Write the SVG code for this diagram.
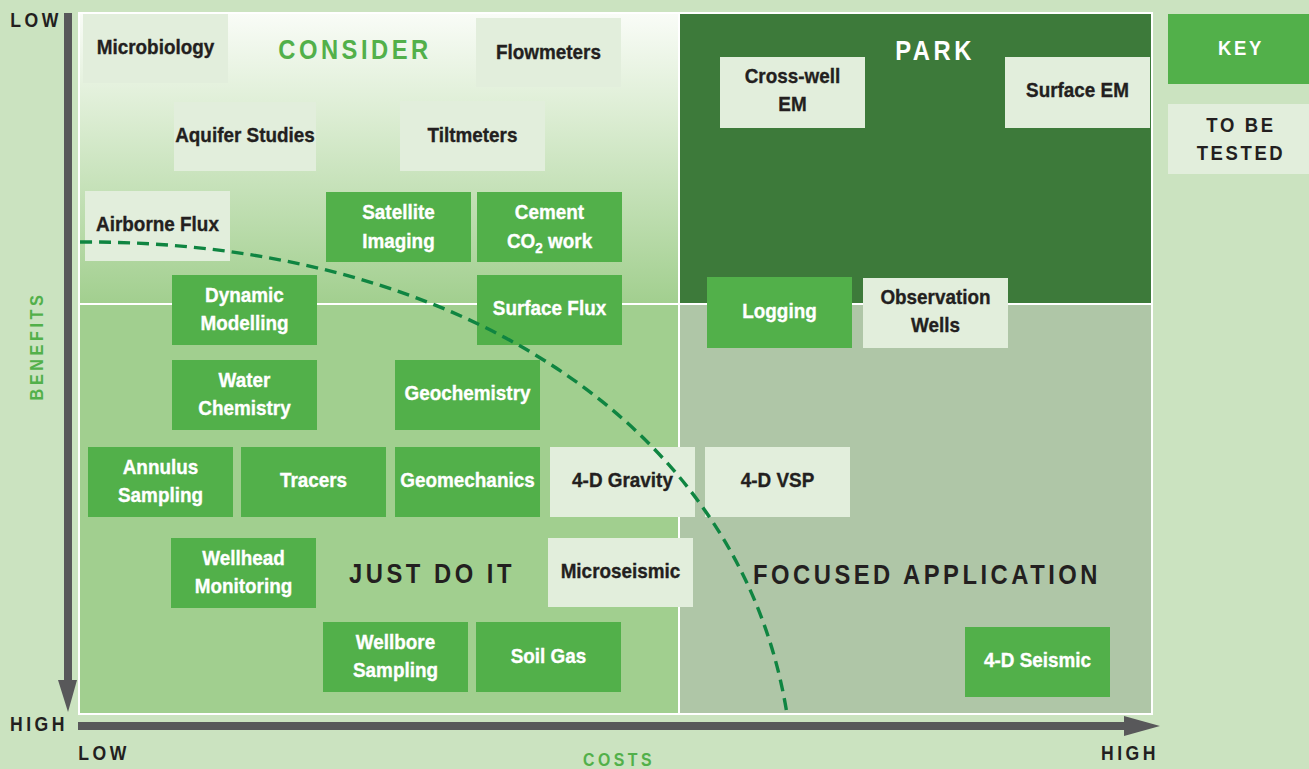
<svg xmlns="http://www.w3.org/2000/svg" width="1309" height="769" viewBox="0 0 1309 769">
  <defs>
    <linearGradient id="gConsider" x1="0" y1="0" x2="0" y2="1">
      <stop offset="0" stop-color="#f9fcf7"/>
      <stop offset="0.35" stop-color="#dcedd3"/>
      <stop offset="1" stop-color="#a2cf8f"/>
    </linearGradient>
    <style>
      text { font-family: "Liberation Sans", Arial, sans-serif; font-weight: bold; }
      .sq { transform: scaleX(0.88); transform-box: fill-box; transform-origin: center; }
      .lt { fill: #e2eedc; }
      .gr { fill: #52b04a; }
      .tl { font-size: 21px; fill: #231f20; stroke: #231f20; stroke-width: 0.35px; text-anchor: middle; transform: scaleX(0.9); transform-box: fill-box; transform-origin: center; }
      .tg { font-size: 21px; fill: #ffffff; stroke: #ffffff; stroke-width: 0.35px; text-anchor: middle; transform: scaleX(0.9); transform-box: fill-box; transform-origin: center; }
      .quad { font-size: 27px; letter-spacing: 4px; text-anchor: middle; }
      .axis { font-size: 20px; fill: #231f20; letter-spacing: 4px; text-anchor: middle; }
      .axg { font-size: 18px; fill: #52b04a; letter-spacing: 4px; text-anchor: middle; }
      .key { font-size: 21px; letter-spacing: 3px; text-anchor: middle; }
    </style>
  </defs>

  <!-- background -->
  <rect x="0" y="0" width="1309" height="769" fill="#cbe3c0"/>

  <!-- frame and quadrants -->
  <g id="quadrants">
    <rect x="78" y="12" width="1075" height="703" fill="#ffffff"/>
    <rect x="80" y="14" width="598" height="289" fill="url(#gConsider)"/>
    <rect x="680" y="14" width="471" height="289" fill="#3d7a3a"/>
    <rect x="80" y="305" width="598" height="408" fill="#a1cf8f"/>
    <rect x="680" y="305" width="471" height="408" fill="#afc6a7"/>
  </g>

  <!-- axes -->
  <g id="axes" fill="#58585a">
    <rect x="64" y="13" width="8" height="672"/>
    <polygon points="58,680 77,680 68,712"/>
    <rect x="78" y="722" width="1050" height="8"/>
    <polygon points="1124,716 1124,736 1160,726"/>
  </g>

  <!-- axis labels -->
  <g id="axis-labels">
    <text class="axis sq" x="36" y="27">LOW</text>
    <text class="axis sq" x="39" y="731">HIGH</text>
    <text class="axis sq" x="104" y="760">LOW</text>
    <text class="axis sq" x="1130" y="760">HIGH</text>
    <text class="axg sq" x="619" y="766">COSTS</text>
    <text class="axg" x="0" y="0" transform="translate(43,346) rotate(-90) scale(0.9,1)" letter-spacing="4.5">BENEFITS</text>
  </g>

  <!-- quadrant labels -->
  <g id="quadrant-labels">
    <text class="quad sq" x="355" y="59" fill="#52b04a">CONSIDER</text>
    <text class="quad sq" x="935" y="60" fill="#ffffff">PARK</text>
    <text class="quad sq" x="432" y="583" fill="#231f20">JUST DO IT</text>
    <text class="quad sq" x="927" y="584" fill="#231f20" letter-spacing="3.5">FOCUSED APPLICATION</text>
  </g>

  <!-- nodes -->
  <g id="n-microbiology"><rect class="lt" x="83" y="14" width="145" height="69"/><text class="tl" x="155.5" y="54">Microbiology</text></g>
  <g id="n-flowmeters"><rect class="lt" x="476" y="18" width="145" height="69"/><text class="tl" x="548.5" y="59">Flowmeters</text></g>
  <g id="n-aquifer"><rect class="lt" x="174" y="102" width="142" height="69"/><text class="tl" x="245" y="142">Aquifer Studies</text></g>
  <g id="n-tiltmeters"><rect class="lt" x="400" y="101" width="145" height="70"/><text class="tl" x="472.5" y="142">Tiltmeters</text></g>
  <g id="n-airborne"><rect class="lt" x="85" y="191" width="145" height="70"/><text class="tl" x="157.5" y="231">Airborne Flux</text></g>
  <g id="n-satellite"><rect class="gr" x="326" y="192" width="145" height="70"/><text class="tg" x="398.5" y="219">Satellite</text><text class="tg" x="398.5" y="248">Imaging</text></g>
  <g id="n-cement"><rect class="gr" x="477" y="192" width="145" height="70"/><text class="tg" x="549.5" y="219">Cement</text><text class="tg" x="549.5" y="248">CO<tspan font-size="15" dy="5">2</tspan><tspan dy="-5"> work</tspan></text></g>
  <g id="n-dynamic"><rect class="gr" x="172" y="275" width="145" height="70"/><text class="tg" x="244.5" y="302">Dynamic</text><text class="tg" x="244.5" y="330">Modelling</text></g>
  <g id="n-surfaceflux"><rect class="gr" x="477" y="275" width="145" height="70"/><text class="tg" x="549.5" y="315">Surface Flux</text></g>
  <g id="n-water"><rect class="gr" x="172" y="360" width="145" height="70"/><text class="tg" x="244.5" y="387">Water</text><text class="tg" x="244.5" y="415">Chemistry</text></g>
  <g id="n-geochem"><rect class="gr" x="395" y="360" width="145" height="70"/><text class="tg" x="467.5" y="400">Geochemistry</text></g>
  <g id="n-annulus"><rect class="gr" x="88" y="447" width="145" height="70"/><text class="tg" x="160.5" y="474">Annulus</text><text class="tg" x="160.5" y="502">Sampling</text></g>
  <g id="n-tracers"><rect class="gr" x="241" y="447" width="145" height="70"/><text class="tg" x="313.5" y="487">Tracers</text></g>
  <g id="n-geomech"><rect class="gr" x="395" y="447" width="145" height="70"/><text class="tg" x="467.5" y="487">Geomechanics</text></g>
  <g id="n-gravity"><rect class="lt" x="550" y="447" width="145" height="70"/><text class="tl" x="622.5" y="487">4-D Gravity</text></g>
  <g id="n-vsp"><rect class="lt" x="705" y="447" width="145" height="70"/><text class="tl" x="777.5" y="487">4-D VSP</text></g>
  <g id="n-wellhead"><rect class="gr" x="171" y="538" width="145" height="70"/><text class="tg" x="243.5" y="565">Wellhead</text><text class="tg" x="243.5" y="593">Monitoring</text></g>
  <g id="n-microseismic"><rect class="lt" x="548" y="538" width="145" height="69"/><text class="tl" x="620.5" y="578">Microseismic</text></g>
  <g id="n-wellbore"><rect class="gr" x="323" y="622" width="145" height="70"/><text class="tg" x="395.5" y="649">Wellbore</text><text class="tg" x="395.5" y="677">Sampling</text></g>
  <g id="n-soilgas"><rect class="gr" x="476" y="622" width="145" height="70"/><text class="tg" x="548.5" y="663">Soil Gas</text></g>
  <g id="n-seismic"><rect class="gr" x="965" y="627" width="145" height="70"/><text class="tg" x="1037.5" y="667">4-D Seismic</text></g>
  <g id="n-crosswell"><rect class="lt" x="720" y="57" width="145" height="71"/><text class="tl" x="792.5" y="83">Cross-well</text><text class="tl" x="792.5" y="111">EM</text></g>
  <g id="n-surfaceem"><rect class="lt" x="1005" y="57" width="145" height="71"/><text class="tl" x="1077.5" y="97">Surface EM</text></g>
  <g id="n-logging"><rect class="gr" x="707" y="277" width="145" height="71"/><text class="tg" x="779.5" y="318">Logging</text></g>
  <g id="n-observation"><rect class="lt" x="863" y="278" width="145" height="70"/><text class="tl" x="935.5" y="304">Observation</text><text class="tl" x="935.5" y="332">Wells</text></g>

  <!-- key -->
  <g id="key">
    <rect class="gr" x="1168" y="14" width="141" height="70"/>
    <text class="key sq" x="1241" y="55" fill="#ffffff">KEY</text>
  </g>
  <g id="key-tested">
    <rect class="lt" x="1168" y="104" width="141" height="70"/>
    <text class="key sq" x="1241" y="132" fill="#231f20">TO BE</text>
    <text class="key sq" x="1241" y="160" fill="#231f20">TESTED</text>
  </g>

  <!-- connectors -->
  <g id="connectors">
    <path d="M80,242 C450,240 740,420 787,714" fill="none" stroke="#0f8541" stroke-width="3.4" stroke-dasharray="12,7"/>
  </g>
</svg>
